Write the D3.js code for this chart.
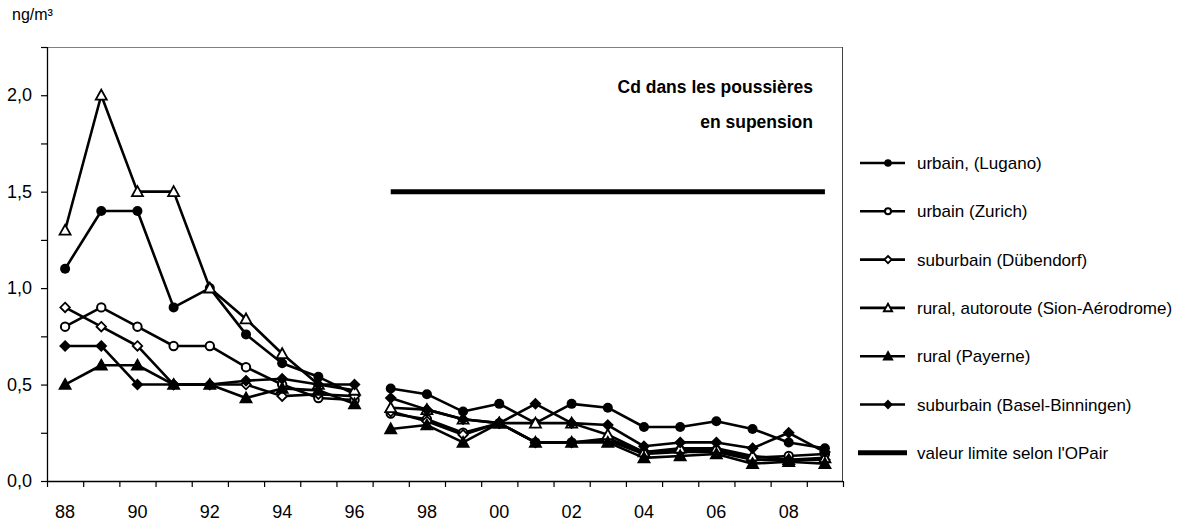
<!DOCTYPE html>
<html>
<head>
<meta charset="utf-8">
<script src="https://cdn.jsdelivr.net/npm/d3@7"></script>
<style>
  html, body { margin: 0; padding: 0; background: #fff; }
  svg { display: block; font-family: "Liberation Sans", Arial, sans-serif; }
</style>
</head>
<body>
<svg id="chart" width="1190" height="526"></svg>
<script>
// Years (two-digit), 1988–2009
const years = ["88","89","90","91","92","93","94","95","96","97","98","99","00","01","02","03","04","05","06","07","08","09"];
// Measurement series break between 1996 and 1997
const period1 = ["88","89","90","91","92","93","94","95","96"];
const period2 = ["97","98","99","00","01","02","03","04","05","06","07","08","09"];
const yearLabels = ["88","90","92","94","96","98","00","02","04","06","08"];
const yTicks = [0, 0.25, 0.5, 0.75, 1, 1.25, 1.5, 1.75, 2, 2.25];
const yLabels = [0, 0.5, 1, 1.5, 2];

// Cd concentration in suspended dust, ng/m³
const lugano     = [1.10, 1.40, 1.40, 0.90, 1.00, 0.76, 0.61, 0.54, 0.45, 0.48, 0.45, 0.36, 0.40, 0.30, 0.40, 0.38, 0.28, 0.28, 0.31, 0.27, 0.20, 0.17];
const zurich     = [0.80, 0.90, 0.80, 0.70, 0.70, 0.59, 0.50, 0.43, 0.42, 0.35, 0.32, 0.25, 0.30, 0.20, 0.20, 0.22, 0.15, 0.16, 0.16, 0.12, 0.13, 0.14];
const dubendorf  = [0.90, 0.80, 0.70, 0.50, 0.50, 0.50, 0.44, 0.45, 0.44, 0.36, 0.31, 0.24, 0.30, 0.20, 0.20, 0.21, 0.14, 0.15, 0.15, 0.11, 0.11, 0.11];
const sion       = [1.30, 2.00, 1.50, 1.50, 1.00, 0.84, 0.66, 0.50, 0.47, 0.38, 0.37, 0.32, 0.30, 0.30, 0.30, 0.24, 0.15, 0.17, 0.17, 0.13, 0.11, 0.12];
const payerne    = [0.50, 0.60, 0.60, 0.50, 0.50, 0.43, 0.48, 0.47, 0.40, 0.27, 0.29, 0.20, 0.30, 0.20, 0.20, 0.20, 0.12, 0.13, 0.14, 0.09, 0.10, 0.09];
const basel      = [0.70, 0.70, 0.50, 0.50, 0.50, 0.52, 0.53, 0.50, 0.50, 0.43, 0.37, 0.32, 0.30, 0.40, 0.30, 0.29, 0.18, 0.20, 0.20, 0.17, 0.25, 0.15];
const limitYears = period2;
const limitValue = 1.5;

const seriesNames = [
  "urbain, (Lugano)",
  "urbain (Zurich)",
  "suburbain (Dübendorf)",
  "rural, autoroute (Sion-Aérodrome)",
  "rural (Payerne)",
  "suburbain (Basel-Binningen)"
];
const seriesValues = [lugano, zurich, dubendorf, sion, payerne, basel];
const seriesMarkers = ["circleFilled", "circleOpen", "diamondOpen", "triangleOpen", "triangleFilled", "diamondFilled"];
const limitName = "valeur limite selon l'OPair";

const svg = d3.select("#chart");
const plotLeft = 47, plotTop = 47, plotRight = 843, plotBottom = 481;

const x = d3.scaleBand().domain(years).range([plotLeft, plotRight]).padding(0);
const xEdge = d3.scaleLinear().domain([0, years.length]).range([plotLeft, plotRight]);
const y = d3.scaleLinear().domain([0, 2.25]).range([plotBottom, plotTop]);
const cx = d => x(d) + x.bandwidth() / 2;

// plot frame (top and right)
svg.append("line").attr("x1", plotLeft).attr("x2", plotRight).attr("y1", plotTop + 0.5).attr("y2", plotTop + 0.5)
  .attr("stroke", "#808080").attr("stroke-width", 1);
svg.append("line").attr("x1", plotRight - 0.5).attr("x2", plotRight - 0.5).attr("y1", plotTop).attr("y2", plotBottom)
  .attr("stroke", "#404040").attr("stroke-width", 1);

// y axis
const yAxis = d3.axisLeft(y).tickValues(yTicks).tickSize(6).tickPadding(9)
  .tickFormat(d => yLabels.includes(d) ? d3.format(".1f")(d).replace(".", ",") : "");
const gy = svg.append("g").attr("transform", `translate(${plotLeft},0)`).call(yAxis);
gy.select(".domain").attr("d", `M0.5,${plotTop}V${plotBottom}`).attr("stroke", "#000").attr("stroke-width", 1.3);
gy.selectAll(".tick line").attr("stroke", "#000").attr("stroke-width", 1.2);
gy.selectAll(".tick text").attr("font-size", 18).attr("fill", "#000").attr("font-family", "inherit");

// x axis: ticks on band boundaries, labels on band centres
const xTickAxis = d3.axisBottom(xEdge).tickValues(d3.range(0, years.length + 1)).tickSize(6).tickFormat("");
const gxt = svg.append("g").attr("transform", `translate(0,${plotBottom})`).call(xTickAxis);
gxt.select(".domain").attr("d", `M${plotLeft},0.5H${plotRight}`).attr("stroke", "#000").attr("stroke-width", 1.3);
gxt.selectAll(".tick line").attr("stroke", "#000").attr("stroke-width", 1.2);

const xLabelAxis = d3.axisBottom(x).tickValues(yearLabels).tickSize(0).tickPadding(24);
const gxl = svg.append("g").attr("transform", `translate(0,${plotBottom})`).call(xLabelAxis);
gxl.select(".domain").remove();
gxl.selectAll(".tick text").attr("font-size", 18).attr("fill", "#000").attr("font-family", "inherit");

// unit
svg.append("text").attr("x", 12).attr("y", 20).attr("font-size", 16).text("ng/m³");

// marker drawing
function drawMarker(g, type, size) {
  const s = size;
  if (type === "circleFilled") {
    g.append("circle").attr("r", s).attr("fill", "#000");
  } else if (type === "circleOpen") {
    g.append("circle").attr("r", s - 0.8).attr("fill", "#fff").attr("stroke", "#000").attr("stroke-width", 2);
  } else if (type === "diamondOpen" || type === "diamondFilled") {
    const d = s * 0.95;
    g.append("path").attr("d", `M0,${-d}L${d},0L0,${d}L${-d},0Z`)
      .attr("fill", type === "diamondFilled" ? "#000" : "#fff").attr("stroke", "#000").attr("stroke-width", 1.8);
  } else if (type === "triangleOpen" || type === "triangleFilled") {
    const h = s * 1.1;
    g.append("path").attr("d", `M0,${-h}L${h},${h * 0.8}L${-h},${h * 0.8}Z`)
      .attr("fill", type === "triangleFilled" ? "#000" : "#fff").attr("stroke", "#000").attr("stroke-width", 1.8)
      .attr("stroke-linejoin", "miter");
  }
}

const line = d3.line().x(d => cx(d.year)).y(d => y(d.value));

// limit value
svg.append("path")
  .datum(limitYears.map(yr => ({ year: yr, value: limitValue })))
  .attr("d", line).attr("fill", "none").attr("stroke", "#000").attr("stroke-width", 5);

// series lines and markers
seriesValues.forEach((vals, i) => {
  const pts = years.map((yr, j) => ({ year: yr, value: vals[j] }));
  [period1, period2].forEach(per => {
    svg.append("path")
      .datum(pts.filter(p => per.includes(p.year)))
      .attr("d", line).attr("fill", "none").attr("stroke", "#000").attr("stroke-width", 2.6)
      .attr("stroke-linejoin", "round");
  });
});
seriesValues.forEach((vals, i) => {
  years.forEach((yr, j) => {
    const g = svg.append("g").attr("transform", `translate(${cx(yr)},${y(vals[j])})`);
    drawMarker(g, seriesMarkers[i], 5);
  });
});

// title
const title = svg.append("text").attr("text-anchor", "end").attr("font-size", 17.5).attr("font-weight", "bold");
title.append("tspan").attr("x", 813).attr("y", 93).text("Cd dans les poussières");
title.append("tspan").attr("x", 813).attr("y", 128).text("en supension");

// legend
const legendY0 = 163, legendStep = 48.3;
seriesNames.forEach((name, i) => {
  const ly = legendY0 + i * legendStep;
  svg.append("line").attr("x1", 860).attr("x2", 905).attr("y1", ly).attr("y2", ly)
    .attr("stroke", "#000").attr("stroke-width", 2.6);
  const g = svg.append("g").attr("transform", `translate(888,${ly})`);
  drawMarker(g, seriesMarkers[i], 3.8);
  svg.append("text").attr("x", 917).attr("y", ly + 6).attr("font-size", 17).text(name);
});
const limY = legendY0 + 6 * legendStep;
svg.append("line").attr("x1", 858).attr("x2", 907).attr("y1", limY).attr("y2", limY)
  .attr("stroke", "#000").attr("stroke-width", 5);
svg.append("text").attr("x", 917).attr("y", limY + 6).attr("font-size", 17).text(limitName);
</script>
</body>
</html>
